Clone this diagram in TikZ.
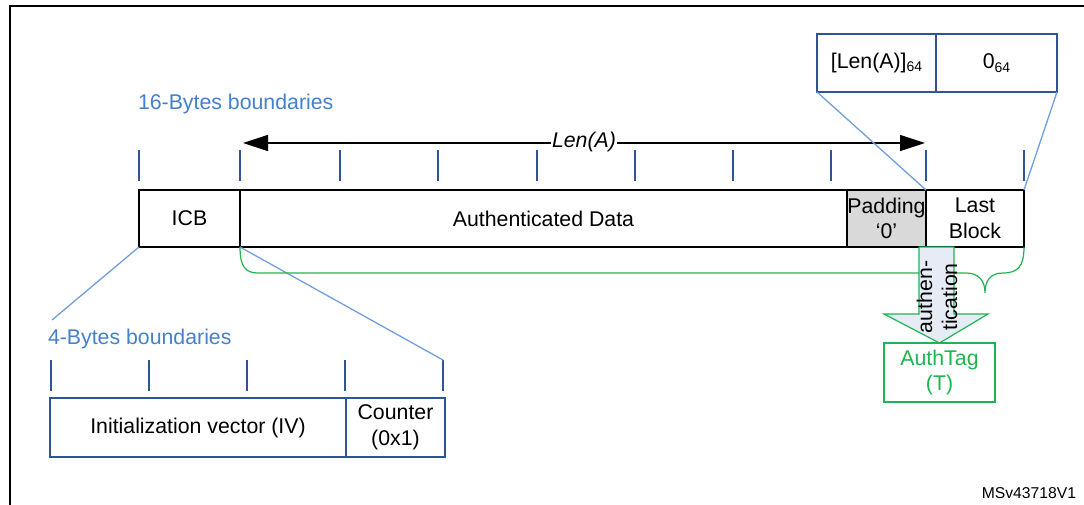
\documentclass[tikz,border=0pt]{standalone}
\usepackage{fontspec}
\setmainfont{Liberation Sans}
\usetikzlibrary{arrows.meta}
\definecolor{dblue}{RGB}{47,85,151}
\definecolor{lblue}{RGB}{111,160,220}
\definecolor{tblue}{RGB}{68,128,204}
\definecolor{tgreen}{RGB}{30,180,80}
\definecolor{afill}{RGB}{230,236,246}
\definecolor{pgray}{RGB}{217,217,217}
\newcommand{\mainsize}{\fontsize{21.3}{25.5}\selectfont}
\newcommand{\subsz}[1]{\raisebox{-0.3ex}{\fontsize{14}{14}\selectfont #1}}
\begin{document}
\begin{tikzpicture}[x=1pt,y=-1pt,
  every node/.style={font=\mainsize, inner sep=0pt, outer sep=0pt},
  rowbox/.style={draw=black, line width=1.6pt, anchor=north west, minimum height=57pt, align=center},
  bluebox/.style={draw=dblue, line width=1.5pt, anchor=north west, align=center},
  tickline/.style={draw=dblue, line width=1.5pt},
  zoomline/.style={draw=lblue, line width=1.3pt},
  bluetext/.style={text=tblue, anchor=west},
  greenline/.style={draw=tgreen, line width=1.2pt}]
\useasboundingbox (0,0) rectangle (1084,505);
% frame
\draw[line width=1.8pt] (10,505) -- (10,6) -- (1084,6);

% main row
\node[rowbox, minimum width=101pt] (icb) at (139,190) {ICB};
\node[rowbox, minimum width=607pt] (ad) at (240,190) {Authenticated Data};
\node[rowbox, minimum width=79pt, fill=pgray] (pad) at (847,190) {Padding\\‘0’};
\node[rowbox, minimum width=98pt] (last) at (926,190) {Last\\Block};

% top box
\node[bluebox, minimum width=119pt, minimum height=58pt] (lenb) at (817,34) {[Len(A)]\subsz{64}};
\node[bluebox, minimum width=121pt, minimum height=58pt] (zero) at (936,34) {0\subsz{64}};

% IV row
\node[bluebox, minimum width=296pt, minimum height=59pt] (iv) at (50,398) {Initialization vector (IV)};
\node[bluebox, minimum width=99pt, minimum height=59pt] (ctr) at (346,398) {Counter\\(0x1)};

% 16-byte ticks
\foreach \x [count=\i] in {139,240,340,438,537,635,733,831,926,1024}{
  \coordinate (ta\i) at (\x,150);
  \draw[tickline] (\x,150) -- (\x,181);
}
% 4-byte ticks
\foreach \x [count=\i] in {51,149,247,345,443}{
  \coordinate (tb\i) at (\x,360);
  \draw[tickline] (\x,360) -- (\x,391);
}

% labels
\node[bluetext] (b16) at (138,104) {16-Bytes boundaries};
\node[bluetext] (b4) at (48,339) {4-Bytes boundaries};
\node[anchor=east, font=\fontsize{15.7}{18}\selectfont] (ms) at (1076,493) {MSv43718V1};

% Len(A) arrow
\coordinate (lenl) at (243,143);
\coordinate (lenr) at (925,143);
\draw[line width=1.3pt, {Triangle[length=25pt,width=16pt]}-{Triangle[length=25pt,width=16pt]}] (lenl) -- (lenr);
\node[fill=white, inner xsep=1.5pt, inner ysep=1pt, font=\mainsize\itshape] (lena) at (584,142) {Len(A)};

% zoom lines
\coordinate (ivc) at (52,320);
\draw[zoomline] (lenb.south west) -- (last.north west);
\draw[zoomline] (zero.south east) -- (last.north east);
\draw[zoomline] (icb.south west) -- (ivc);
\draw[zoomline] (icb.south east) -- (tb5);

% brace
\draw[greenline] (icb.south east) .. controls (240,266) and (245,273) .. (258,273)
  -- (966,273) .. controls (979,273) and (985,281) .. (985,293)
  .. controls (985,281) and (990,273) .. (1003,273)
  .. controls (1018,273) and (1024,266) .. (last.south east);

% authentication arrow
\node[draw=tgreen, line width=1.5pt, anchor=north west, minimum width=111pt, minimum height=59pt, align=center, text=tgreen] (tag) at (884,343) {AuthTag\\(T)};
\draw[draw=tgreen, line width=1.2pt, fill=afill] (919,247) -- (954,247) -- (954,314) -- (988,314) -- (tag.north) -- (884,314) -- (919,314) -- cycle;
\node[rotate=90, align=center, font=\fontsize{21.3}{25}\selectfont] (authl) at (937,297) {authen-\\tication};
\end{tikzpicture}
\end{document}
